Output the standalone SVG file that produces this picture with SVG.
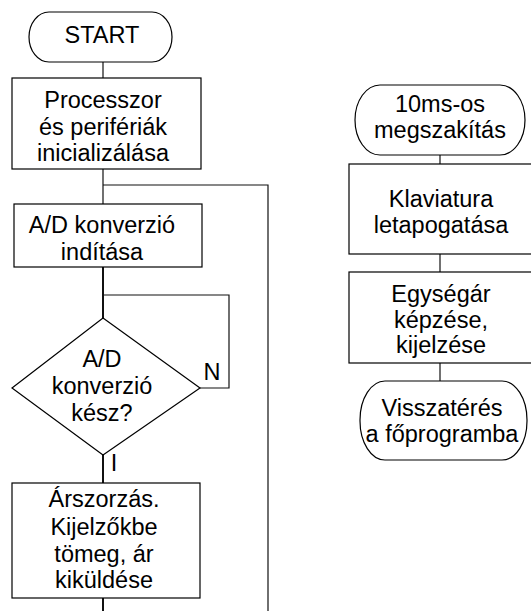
<svg xmlns="http://www.w3.org/2000/svg" width="531" height="611" viewBox="0 0 531 611">
<style>
.s{fill:#fff;stroke:#000;stroke-width:1.2}
.t{font-family:"Liberation Sans",Arial,sans-serif;font-size:23.5px;fill:#000;text-anchor:middle}
.c{fill:none;stroke:#111;stroke-width:1.2}
.k{fill:none;stroke:#111;stroke-width:2}
</style>
<rect width="531" height="611" fill="#fff"/>
<g id="connectors">
<line class="c" x1="103" y1="62" x2="103" y2="78"/>
<line class="c" x1="103" y1="169" x2="103" y2="204"/>
<polyline class="c" points="103,185 268,185 268,611"/>
<line class="k" x1="103" y1="267" x2="103" y2="318"/>
<polyline class="c" points="200,388 229,388 229,295 103,295"/>
<line class="k" x1="103" y1="455" x2="103" y2="483"/>
<line class="k" x1="103" y1="598" x2="103" y2="611"/>
<line class="c" x1="440" y1="155" x2="440" y2="164"/>
<line class="c" x1="440" y1="254" x2="440" y2="272"/>
<line class="c" x1="440" y1="363" x2="440" y2="381"/>
<text class="t" x="212" y="380">N</text>
<text class="t" x="114" y="471">I</text>
</g>
<g id="start">
<rect class="s" x="29" y="12" width="143" height="50" rx="20" ry="25"/>
<text class="t" x="102" y="43">START</text>
</g>
<g id="init">
<rect class="s" x="12" y="78" width="189" height="91"/>
<text class="t" x="103" y="108">Processzor</text>
<text class="t" x="103" y="135">és perifériák</text>
<text class="t" x="103" y="161">inicializálása</text>
</g>
<g id="adstart">
<rect class="s" x="14" y="204" width="188" height="63"/>
<text class="t" x="102" y="233">A/D konverzió</text>
<text class="t" x="102" y="260">indítása</text>
</g>
<g id="decision">
<polygon class="s" points="103,318 200,388 103,455 12,388"/>
<text class="t" x="102" y="367">A/D</text>
<text class="t" x="102" y="394">konverzió</text>
<text class="t" x="102" y="421">kész?</text>
</g>
<g id="compute">
<rect class="s" x="12" y="483" width="188" height="115"/>
<text class="t" x="104" y="507">Árszorzás.</text>
<text class="t" x="104" y="535">Kijelzőkbe</text>
<text class="t" x="104" y="562">tömeg, ár</text>
<text class="t" x="104" y="588">kiküldése</text>
</g>
<g id="interrupt">
<rect class="s" x="355" y="85" width="170" height="70" rx="25" ry="35"/>
<text class="t" x="440" y="112">10ms-os</text>
<text class="t" x="440" y="138">megszakítás</text>
</g>
<g id="keyboard">
<rect class="s" x="349" y="164" width="186" height="90"/>
<text class="t" x="441" y="207">Klaviatura</text>
<text class="t" x="441" y="233">letapogatása</text>
</g>
<g id="unitprice">
<rect class="s" x="349" y="272" width="186" height="91"/>
<text class="t" x="441" y="302">Egységár</text>
<text class="t" x="441" y="328">képzése,</text>
<text class="t" x="441" y="353">kijelzése</text>
</g>
<g id="return">
<rect class="s" x="360" y="381" width="167" height="79" rx="25" ry="39"/>
<text class="t" x="442" y="416">Visszatérés</text>
<text class="t" x="442" y="442">a főprogramba</text>
</g>
</svg>
